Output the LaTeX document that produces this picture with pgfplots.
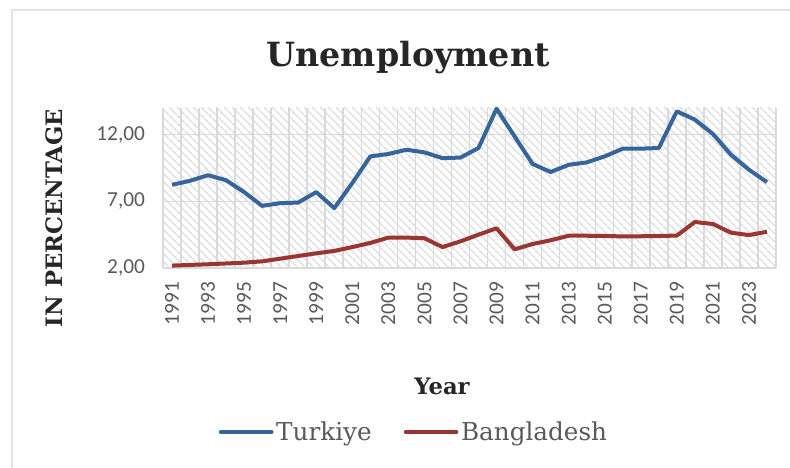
\documentclass[border=0pt]{standalone}
\usepackage{pgfplots}
\pgfplotsset{compat=1.18}
\usepackage{fontspec}
\setmainfont{DejaVu Serif}
\newfontfamily\carlito{Carlito}
\usetikzlibrary{patterns.meta}
\definecolor{tkblue}{HTML}{35659B}
\definecolor{bdred}{HTML}{9A3632}
\definecolor{txtgray}{HTML}{595959}
\definecolor{dark}{HTML}{262626}
\definecolor{gridc}{HTML}{D9D9D9}
\begin{document}
\begin{tikzpicture}
\useasboundingbox (0pt,0pt) rectangle (592.5pt,351pt);
\draw[gray!22, line width=1.5pt] (9pt,0pt) -- (9pt,343.5pt) -- (592.5pt,343.5pt);
\begin{axis}[
  at={(122.25pt,150pt)}, anchor=south west,
  scale only axis, width=459.75pt, height=120pt,
  xmin=1990.5, xmax=2024.5, ymin=2, ymax=14,
  axis lines*=left, axis line style={draw=none},
  major tick length=0pt, minor tick length=0pt,
  xtick={1991,1993,...,2023},
  xticklabels={1991,1993,1995,1997,1999,2001,2003,2005,2007,2009,2011,2013,2015,2017,2019,2021,2023},
  minor xtick={1990.5,1991.5,...,2024.5},
  ytick={2,7,12},
  xminorgrids, ymajorgrids,
  minor grid style={gridc, line width=1.2pt},
  major grid style={gridc, line width=1.2pt},
  axis background/.style={pattern={Lines[angle=-45,distance=4pt,line width=1.3pt]}, pattern color=gray!25},
  /pgf/number format/assume math mode=true,
  tick label style={font=\carlito\fontsize{16}{16}\selectfont, text=txtgray},
  yticklabel style={font=\carlito\fontsize{16}{16}\selectfont, text=txtgray,
     /pgf/number format/.cd, fixed, fixed zerofill, precision=2, use comma, assume math mode=true},
  xticklabel style={font=\carlito\fontsize{16}{16}\selectfont, text=txtgray, rotate=90, anchor=east},
  xticklabel shift=7pt,
  yticklabel shift=10pt,
  legend style={at={(0.41,-1.025)}, anchor=center, draw=none, fill=none,
    legend columns=2, font=\fontsize{18.5}{18.5}\selectfont, text=txtgray,
    /tikz/every even column/.append style={column sep=22pt},
    inner sep=0pt},
  legend image code/.code={\draw[#1, line cap=round] (0pt,0pt) -- (38pt,0pt);},
  legend cell align=left,
]
\addplot[tkblue, line width=3pt, line join=round] coordinates {
(1991,8.24) (1992,8.54) (1993,8.96) (1994,8.58) (1995,7.69) (1996,6.66)
(1997,6.86) (1998,6.91) (1999,7.69) (2000,6.49) (2001,8.37) (2002,10.37)
(2003,10.55) (2004,10.87) (2005,10.67) (2006,10.24) (2007,10.28) (2008,11.0)
(2009,13.95) (2010,11.87) (2011,9.8) (2012,9.2) (2013,9.74) (2014,9.92)
(2015,10.37) (2016,10.95) (2017,10.95) (2018,11.0) (2019,13.75) (2020,13.13)
(2021,12.05) (2022,10.5) (2023,9.37) (2024,8.44)
};
\addlegendentry{Turkiye}
\addplot[bdred, line width=3pt, line join=round] coordinates {
(1991,2.18) (1992,2.23) (1993,2.28) (1994,2.34) (1995,2.40) (1996,2.50)
(1997,2.70) (1998,2.90) (1999,3.10) (2000,3.28) (2001,3.57) (2002,3.88)
(2003,4.28) (2004,4.28) (2005,4.23) (2006,3.57) (2007,4.00) (2008,4.50)
(2009,4.98) (2010,3.40) (2011,3.80) (2012,4.08) (2013,4.42) (2014,4.42)
(2015,4.40) (2016,4.37) (2017,4.38) (2018,4.40) (2019,4.43) (2020,5.45)
(2021,5.30) (2022,4.65) (2023,4.47) (2024,4.72)
};
\addlegendentry{Bangladesh}
\end{axis}
\node[anchor=base, font=\bfseries\fontsize{25}{25}\selectfont, text=dark] at (306pt,300.75pt) {Unemployment};
\node[anchor=base, rotate=90, font=\bfseries\fontsize{17}{17}\selectfont, text=dark] at (46.5pt,187.5pt) {IN PERCENTAGE};
\node[anchor=base, font=\bfseries\fontsize{17}{17}\selectfont, text=dark] at (331.5pt,54.75pt) {Year};
\end{tikzpicture}
\end{document}
